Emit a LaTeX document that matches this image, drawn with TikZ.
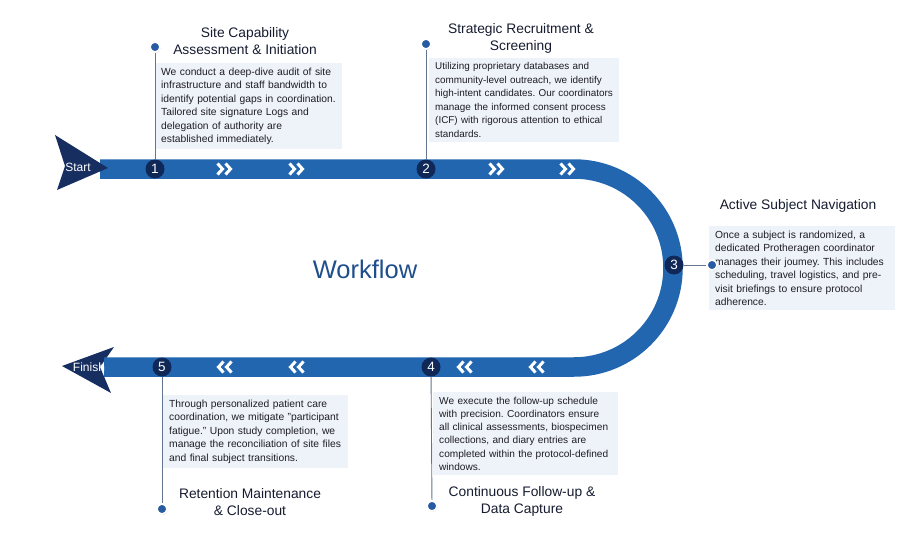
\documentclass[tikz,border=0pt]{standalone}
\usepackage{fontspec}
\setmainfont{Liberation Sans}
\usetikzlibrary{shadows}
\frenchspacing

\definecolor{bandblue}{RGB}{35,102,176}
\definecolor{stepnavy}{RGB}{16,40,88}
\definecolor{dartnavy}{RGB}{22,46,96}
\definecolor{boxfill}{RGB}{238,243,249}
\definecolor{leadergray}{RGB}{98,118,145}
\definecolor{dotblue}{RGB}{40,92,162}
\definecolor{titletext}{RGB}{22,28,48}
\definecolor{bodytext}{RGB}{30,30,36}
\definecolor{flowblue}{RGB}{31,78,140}

\tikzset{
  band/.style={draw=bandblue, line width=19.5pt},
  dart/.style={fill=dartnavy},
  dartlabel/.style={text=white, font=\fontsize{12}{12}\selectfont},
  chevline/.style={draw=white, line width=3pt, line join=miter},
  chevright/.pic={
    \draw[chevline] (-7.5,-5.5) -- (-2.5,0) -- (-7.5,5.5);
    \draw[chevline] (0.5,-5.5) -- (5.5,0) -- (0.5,5.5);
  },
  chevleft/.pic={
    \draw[chevline] (7.5,-5.5) -- (2.5,0) -- (7.5,5.5);
    \draw[chevline] (-0.5,-5.5) -- (-5.5,0) -- (-0.5,5.5);
  },
  stepnum/.style={circle, fill=stepnavy, text=white, minimum size=19pt,
    inner sep=0pt, font=\fontsize{13.5}{13.5}\selectfont},
  stepdot/.style={circle, fill=dotblue, draw=white, line width=1.6pt,
    minimum size=10pt, inner sep=0pt,
    drop shadow={opacity=0.35, shadow xshift=0.5pt, shadow yshift=-1pt}},
  leader/.style={draw=leadergray, line width=0.9pt},
  infobox/.style={anchor=north west, fill=boxfill, text=bodytext, align=left,
    inner xsep=6pt, inner ysep=4.5pt, text width=#1,
    font=\fontsize{10.3}{13.5}\selectfont},
  steptitle/.style={text=titletext, align=center,
    font=\fontsize{13.8}{16.5}\selectfont},
}

\begin{document}
\begin{tikzpicture}[x=1pt, y=-1pt]
  \useasboundingbox[fill=white] (0,0) rectangle (900,535);

  % the journey band
  \fill[dart] (62,366) -- (114,347) -- (100,367) -- (111,393) -- cycle;
  \draw[band] (100,169) -- (574,169)
    arc[start angle=90, end angle=-90, radius=99pt] -- (104,367);
  \fill[dart] (55,135) -- (108,168) -- (57,190) -- (65,166) -- cycle;
  \node[dartlabel] (start) at (78,167) {Start};
  \node[dartlabel] (finish) at (89,367) {Finish};

  \foreach \cx in {225,297,497,568}
    \pic at (\cx,169) {chevright};
  \foreach \cx in {224,296,464,536}
    \pic at (\cx,367) {chevleft};

  \node[text=flowblue, font=\fontsize{25.5}{25.5}\selectfont] (flow) at (365,269) {Workflow};

  % text boxes
  \node[infobox=175pt] (box1) at (155,63) {We conduct a deep-dive audit of site\\
    infrastructure and staff bandwidth to\\
    identify potential gaps in coordination.\\
    Tailored site signature Logs and\\
    delegation of authority are\\
    established immediately.};
  \node[infobox=178pt, font=\fontsize{9.9}{13.5}\selectfont] (box2) at (429,58) {Utilizing proprietary databases and\\
    community-level outreach, we identify\\
    high-intent candidates. Our coordinators\\
    manage the informed consent process\\
    (ICF) with rigorous attention to ethical\\
    standards.};
  \node[infobox=174pt] (box3) at (709,226) {Once a subject is randomized, a\\
    dedicated Protheragen coordinator\\
    manages their joumey. This includes\\
    scheduling, travel logistics, and pre-\\
    visit briefings to ensure protocol\\
    adherence.};
  \node[infobox=173pt, font=\fontsize{10.1}{13.3}\selectfont] (box4) at (433,392) {We execute the follow-up schedule\\
    with precision. Coordinators ensure\\
    all clinical assessments, biospecimen\\
    collections, and diary entries are\\
    completed within the protocol-defined\\
    windows.};
  \node[infobox=173pt] (box5) at (163,395) {Through personalized patient care\\
    coordination, we mitigate "participant\\
    fatigue." Upon study completion, we\\
    manage the reconciliation of site files\\
    and final subject transitions.};

  % titles
  \node[steptitle] (title1) at (245,41) {Site Capability\\Assessment \& Initiation};
  \node[steptitle] (title2) at (521,38.5) {Strategic Recruitment \&\\Screening};
  \node[steptitle] (title3) at (798,206) {Active Subject Navigation};
  \node[steptitle] (title4) at (522,501.5) {Continuous Follow-up \&\\Data Capture};
  \node[steptitle] (title5) at (250,502) {Retention Maintenance\\\& Close-out};

  % steps and leaders
  \node[stepnum] (n1) at (155,169) {1};
  \node[stepnum] (n2) at (426,169) {2};
  \node[stepnum] (n3) at (674,265) {3};
  \node[stepnum] (n4) at (431,367) {4};
  \node[stepnum] (n5) at (162,367) {5};

  \node[stepdot] (d1) at (155,47) {};
  \node[stepdot] (d2) at (426,44) {};
  \node[stepdot] (d3) at (712,265) {};
  \node[stepdot] (d4) at (432,506) {};
  \node[stepdot] (d5) at (162,509) {};

  \draw[leader] (n1) -- (d1);
  \draw[leader] (n2) -- (d2);
  \draw[leader] (n3) -- (d3);
  \draw[leader] (n4) -- (d4);
  \draw[leader] (n5) -- (d5);
\end{tikzpicture}
\end{document}
